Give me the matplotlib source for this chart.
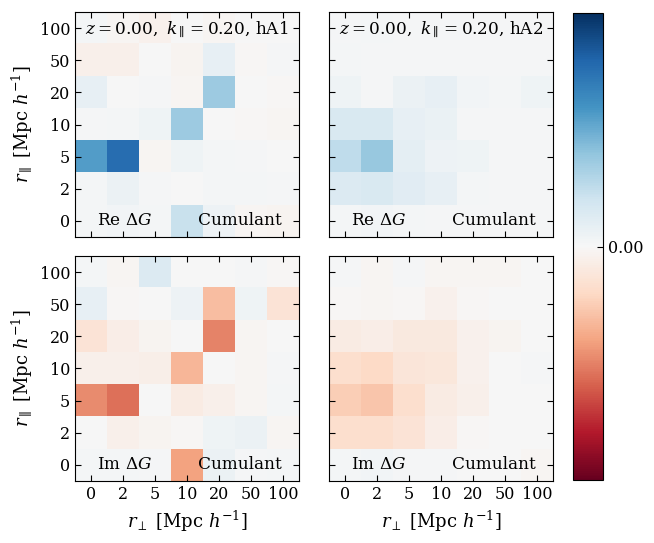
import numpy as np
import matplotlib
matplotlib.use("Agg")
import matplotlib.pyplot as plt

plt.rcParams['font.family'] = 'serif'
plt.rcParams['font.serif'] = ['DejaVu Serif']
plt.rcParams['mathtext.fontset'] = 'dejavuserif'

# bin labels (Mpc/h), same for r_perp and r_par
bins = ['0', '2', '5', '10', '20', '50', '100']

# rows: r_par = 0 ... 100 (bottom to top), cols: r_perp = 0 ... 100
re_hA1 = [
    [0.02, 0.03, 0.02, 0.22, 0.05, -0.02, -0.03],
    [0.02, 0.06, 0.01, 0.00, 0.02, 0.02, 0.01],
    [0.56, 0.76, -0.02, 0.04, 0.02, 0.01, 0.00],
    [0.01, 0.02, 0.04, 0.36, 0.00, -0.01, -0.02],
    [0.08, 0.00, 0.01, -0.02, 0.36, 0.00, -0.01],
    [-0.05, -0.05, 0.00, -0.03, 0.08, -0.01, 0.01],
    [0.02, -0.02, -0.04, 0.00, -0.02, 0.00, 0.00],
]
re_hA2 = [
    [0.02, 0.03, 0.02, 0.01, 0.01, 0.01, 0.01],
    [0.14, 0.15, 0.11, 0.08, 0.02, 0.01, 0.01],
    [0.25, 0.38, 0.10, 0.05, 0.04, 0.01, 0.01],
    [0.15, 0.15, 0.08, 0.07, 0.01, 0.01, 0.01],
    [0.04, 0.01, 0.06, 0.08, 0.03, 0.02, 0.04],
    [0.02, 0.01, 0.01, 0.01, 0.01, 0.01, 0.01],
    [0.01, 0.02, 0.01, 0.01, 0.01, 0.01, 0.01],
]
im_hA1 = [
    [0.02, 0.02, 0.01, -0.40, 0.06, 0.01, 0.02],
    [0.00, -0.05, -0.03, -0.01, 0.04, 0.06, -0.02],
    [-0.47, -0.55, 0.00, -0.08, -0.05, -0.02, 0.02],
    [-0.05, -0.05, -0.06, -0.33, 0.00, -0.02, 0.01],
    [-0.14, -0.07, -0.03, 0.00, -0.50, -0.02, 0.00],
    [0.08, -0.01, 0.00, 0.05, -0.31, 0.04, -0.14],
    [0.02, -0.02, 0.14, 0.00, 0.00, 0.01, -0.01],
]
im_hA2 = [
    [0.02, 0.03, 0.01, 0.01, 0.00, 0.00, -0.02],
    [-0.17, -0.17, -0.14, -0.07, -0.01, 0.00, 0.00],
    [-0.25, -0.28, -0.17, -0.08, -0.05, 0.00, 0.00],
    [-0.17, -0.20, -0.12, -0.11, -0.04, 0.00, 0.01],
    [-0.08, -0.07, -0.10, -0.10, -0.04, -0.03, 0.00],
    [-0.01, -0.02, -0.01, -0.04, -0.01, 0.00, 0.00],
    [0.01, -0.02, 0.01, -0.02, -0.02, -0.02, 0.00],
]

vmax = 1.0

fig = plt.figure(figsize=(6.54, 5.43), dpi=100)

# panel positions [left, bottom, width, height] in figure fraction
W, H = 0.3425, 0.4144
pos = {
    (0, 0): [0.1147, 0.5635, W, H],
    (0, 1): [0.5030, 0.5635, W, H],
    (1, 0): [0.1147, 0.1142, W, H],
    (1, 1): [0.5030, 0.1142, W, H],
}
panels = {
    (0, 0): (re_hA1, 'hA1', r'Re $\Delta G$'),
    (0, 1): (re_hA2, 'hA2', r'Re $\Delta G$'),
    (1, 0): (im_hA1, 'hA1', r'Im $\Delta G$'),
    (1, 1): (im_hA2, 'hA2', r'Im $\Delta G$'),
}

for (r, c), (vals, model, part) in panels.items():
    ax = fig.add_axes(pos[(r, c)])
    im = ax.imshow(np.array(vals), origin='lower', cmap='RdBu',
                   vmin=-vmax, vmax=vmax, aspect='auto')
    ax.set_xticks(range(len(bins)))
    ax.set_yticks(range(len(bins)))
    ax.set_xticklabels(bins)
    ax.set_yticklabels(bins)
    ax.tick_params(direction='in', top=True, right=True, length=4,
                   labelsize=11.5, colors='black')
    if c != 0:
        ax.tick_params(labelleft=False)
    else:
        ax.set_ylabel(r'$r_\parallel$ [Mpc $h^{-1}$]', fontsize=13)
    if r != 1:
        ax.tick_params(labelbottom=False)
    else:
        ax.set_xlabel(r'$r_\perp$ [Mpc $h^{-1}$]', fontsize=13)

    if r == 0:
        ax.text(0.5, 0.965, r'$z=0.00,\ k_\parallel=0.20$, ' + model,
                transform=ax.transAxes, ha='center', va='top', fontsize=12.2)
    ax.text(0.10, 0.035, part, transform=ax.transAxes,
            ha='left', va='bottom', fontsize=12.2)
    ax.text(0.925, 0.035, 'Cumulant', transform=ax.transAxes,
            ha='right', va='bottom', fontsize=12.2)

cax = fig.add_axes([0.876, 0.116, 0.046, 0.860])
cb = fig.colorbar(im, cax=cax)
cb.set_ticks([0.0])
cb.set_ticklabels(['0.00'])
cb.ax.tick_params(direction='in', length=4, labelsize=11.5)

fig.savefig('out.png', dpi=100)
